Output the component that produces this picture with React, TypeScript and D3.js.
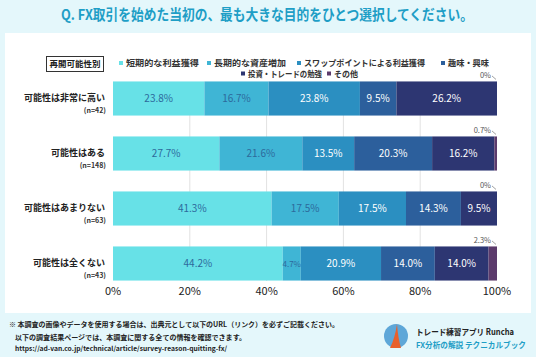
import React from "react";
import * as d3 from "d3";

const categories = ["可能性は非常に高い", "可能性はある", "可能性はあまりない", "可能性は全くない"];
const counts = ["(n=42)", "(n=148)", "(n=63)", "(n=43)"];
const seriesNames = ["短期的な利益獲得", "長期的な資産増加", "スワップポイントによる利益獲得", "趣味・興味", "投資・トレードの勉強", "その他"];
const values: number[][] = [
  [23.8, 16.7, 23.8, 9.5, 26.2, 0],
  [27.7, 21.6, 13.5, 20.3, 16.2, 0.7],
  [41.3, 17.5, 17.5, 14.3, 9.5, 0],
  [44.2, 4.7, 20.9, 14.0, 14.0, 2.3],
];
const ticks = [0, 20, 40, 60, 80, 100];
const colors = ["#67e1e7", "#3fb5d5", "#2b8fc1", "#2c5f9c", "#2d3672", "#5c3b6c"];
const textColors = ["#2d6a9c", "#2d6a9c", "#ffffff", "#ffffff", "#ffffff", "#ffffff"];

const font = "'Noto Sans CJK JP', 'Noto Sans', sans-serif";

export default function App() {
  const W = 536, H = 357;
  const x = d3.scaleLinear().domain([0, 100]).range([113, 497]);
  const y = d3.scaleBand().domain(categories).range([71, 291]).paddingInner(0.38).paddingOuter(0.19);
  const legendPos = [
    [121, 63, 73], [209, 63, 72], [299, 63, 121], [443, 63, 41], [243, 73.5, 74], [329, 73.5, 24],
  ];
  return (
    <svg width={W} height={H} style={{ position: "absolute", left: 0, top: 0, fontFamily: font }}>
      <rect x={0} y={0} width={W} height={H} fill="#e4f7fb" />
      <rect x={5} y={33} width={526} height={280} fill="#ffffff" />
      <text x={267} y={20} textAnchor="middle" fontSize={14.5} fontWeight={700} fill="#1e9ec6"
        textLength={412} lengthAdjust="spacingAndGlyphs">
        Q. FX取引を始めた当初の、最も大きな目的をひとつ選択してください。
      </text>
      {/* legend */}
      <rect x={46.5} y={56.5} width={57} height={15} fill="#fff" stroke="#333" strokeWidth={1} />
      <text x={75} y={67.3} textAnchor="middle" fontSize={8.5} fontWeight={700} fill="#222">再開可能性別</text>
      {seriesNames.map((s, i) => (
        <g key={s}>
          <rect x={legendPos[i][0] - 2} y={legendPos[i][1] - 2} width={4} height={4} fill={colors[i]} />
          <text x={legendPos[i][0] + 5} y={legendPos[i][1] + 3} fontSize={8.5} fontWeight={700} fill="#333"
            textLength={legendPos[i][2]} lengthAdjust="spacingAndGlyphs">{s}</text>
        </g>
      ))}
      {/* grid */}
      {ticks.slice(1, 5).map((t) => (
        <line key={t} x1={x(t)} x2={x(t)} y1={82} y2={281} stroke="#e2e2e2" strokeWidth={1} />
      ))}
      {/* bars */}
      {categories.map((c, ci) => {
        let acc = 0;
        const by = y(c)!;
        const bh = y.bandwidth();
        const last = values[ci][5];
        return (
          <g key={c}>
            <text x={105} y={by + bh / 2 + 2} textAnchor="end" fontSize={9} fontWeight={700} fill="#222">{c}</text>
            <text x={106} y={by + bh / 2 + 14} textAnchor="end" fontSize={7} fontWeight={700} fill="#333">{counts[ci]}</text>
            {values[ci].map((v, si) => {
              const x0 = x(Math.min(acc, 100));
              acc += v;
              const x1 = x(Math.min(acc, 100));
              const w = Math.max(0, x1 - x0);
              return (
                <g key={si}>
                  <rect x={x0} y={by} width={w} height={bh} fill={colors[si]} />
                  {si < 5 && (
                    <text x={(x0 + x1) / 2} y={by + bh / 2 + 3.5} textAnchor="middle" fontSize={si === 1 && v < 6 ? 8 : 10}
                      fill={textColors[si]}>{v.toFixed(1)}%</text>
                  )}
                </g>
              );
            })}
            <text x={x(100) - 6} y={by - 3} textAnchor="end" fontSize={7.5} fill="#555">{last === 0 ? "0%" : `${last}%`}</text>
            <line x1={x(100) - 5} y1={by - 5.5} x2={x(100) - 1} y2={by - 2} stroke="#777" strokeWidth={0.7} />
          </g>
        );
      })}
      {/* axis */}
      {ticks.map((t) => (
        <text key={t} x={x(t)} y={295} textAnchor="middle" fontSize={11} fill="#222">{t}%</text>
      ))}
      {/* footer */}
      <text x={9} y={327} fontSize={7} fontWeight={700} fill="#222" textLength={330} lengthAdjust="spacingAndGlyphs">※ 本調査の画像やデータを使用する場合は、出典元として以下のURL（リンク）を必ずご記載ください。</text>
      <text x={15} y={340} fontSize={7} fontWeight={700} fill="#222" textLength={231} lengthAdjust="spacingAndGlyphs">以下の調査結果ページでは、本調査に関する全ての情報を確認できます。</text>
      <text x={15} y={351} fontSize={6.5} fontWeight={700} fill="#222" textLength={212} lengthAdjust="spacingAndGlyphs">https://ad-van.co.jp/technical/article/survey-reason-quitting-fx/</text>
      <circle cx={396} cy={336} r={12} fill="#5ea7d8" />
      <path d="M390,348 Q395,338 397,324 Q398,338 401,348 Z" fill="#e8602c" />
      <text x={416} y={335} fontSize={8.5} fontWeight={700} fill="#222" textLength={98} lengthAdjust="spacingAndGlyphs">トレード練習アプリ  Runcha</text>
      <text x={416} y={348} fontSize={8} fontWeight={700} fill="#1e9ec6" textLength={110} lengthAdjust="spacingAndGlyphs">FX分析の解説  テクニカルブック</text>
    </svg>
  );
}
